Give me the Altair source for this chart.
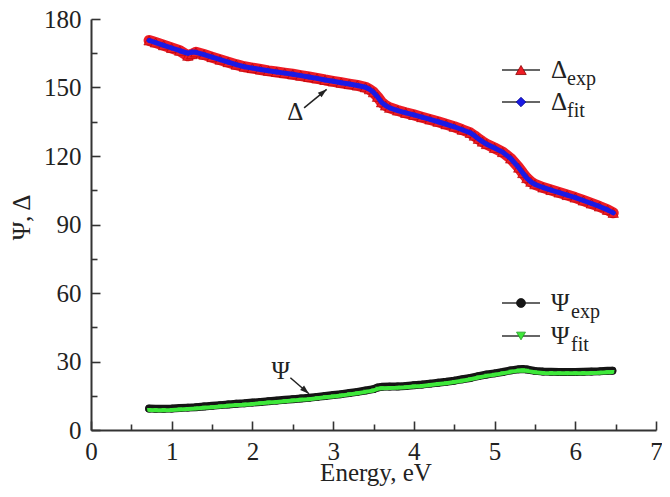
import math
import altair as alt
import pandas as pd

# ---------------- data ----------------
energy_delta = [0.72, 0.8, 0.9, 1.0, 1.1, 1.2, 1.25, 1.3, 1.4, 1.5, 1.6, 1.7, 1.8, 1.9,
                2.0, 2.1, 2.2, 2.3, 2.4, 2.5, 2.6, 2.7, 2.8, 2.9, 3.0, 3.1, 3.2, 3.3,
                3.4, 3.45, 3.5, 3.55, 3.6, 3.65, 3.7, 3.8, 3.9, 4.0, 4.1, 4.2, 4.3,
                4.4, 4.5, 4.6, 4.7, 4.75, 4.8, 4.85, 4.9, 5.0, 5.1, 5.2, 5.3, 5.35,
                5.4, 5.45, 5.5, 5.6, 5.7, 5.8, 5.9, 6.0, 6.1, 6.2, 6.3, 6.4, 6.47]
delta_exp = [170.6, 169.7, 168.5, 167.3, 166.1, 163.9, 164.6, 165.4, 164.4, 163.3, 162.2,
             161.1, 160.0, 159.1, 158.5, 157.9, 157.3, 156.8, 156.3, 155.8, 155.2, 154.6,
             154.0, 153.3, 152.7, 152.1, 151.5, 150.9, 150.1, 149.2, 147.9, 145.9, 143.5,
             142.1, 141.1, 139.9, 138.9, 138.0, 137.0, 136.0, 135.0, 133.9, 132.8, 131.5,
             130.1, 128.9, 127.5, 126.3, 125.2, 123.5, 121.7, 118.9, 114.9, 112.5, 110.3,
             108.7, 107.6, 106.2, 105.1, 104.0, 102.9, 101.8, 100.5, 99.2, 97.9, 96.4, 95.1]
delta_fit = [170.6, 169.7, 168.5, 167.3, 166.1, 165.0, 165.5, 165.4, 164.4, 163.3, 162.2,
             161.1, 160.0, 159.1, 158.5, 157.9, 157.3, 156.8, 156.3, 155.8, 155.2, 154.6,
             154.0, 153.3, 152.7, 152.1, 151.5, 150.9, 150.1, 149.2, 147.9, 145.9, 143.5,
             142.1, 141.1, 139.9, 138.9, 138.0, 137.0, 136.0, 135.0, 133.9, 132.8, 131.5,
             130.1, 128.9, 127.5, 126.3, 125.2, 123.5, 121.7, 118.9, 114.9, 112.5, 110.3,
             108.7, 107.6, 106.2, 105.1, 104.0, 102.9, 101.8, 100.5, 99.2, 97.9, 96.4, 95.1]

energy_psi = [0.72, 0.8, 0.9, 1.0, 1.1, 1.2, 1.3, 1.4, 1.5, 1.6, 1.7, 1.8, 1.9, 2.0,
              2.1, 2.2, 2.3, 2.4, 2.5, 2.6, 2.7, 2.8, 2.9, 3.0, 3.1, 3.2, 3.3, 3.4,
              3.5, 3.55, 3.6, 3.7, 3.8, 3.9, 4.0, 4.1, 4.2, 4.3, 4.4, 4.5, 4.6, 4.7,
              4.8, 4.9, 5.0, 5.1, 5.2, 5.3, 5.35, 5.4, 5.5, 5.6, 5.7, 5.8, 5.9, 6.0,
              6.1, 6.2, 6.3, 6.4, 6.46]
psi_exp = [9.4, 9.3, 9.3, 9.4, 9.6, 9.8, 10.0, 10.3, 10.6, 10.9, 11.2, 11.5, 11.7, 12.0,
           12.3, 12.6, 12.9, 13.2, 13.5, 13.8, 14.1, 14.5, 14.9, 15.3, 15.7, 16.2, 16.7,
           17.3, 17.9, 18.6, 18.9, 19.0, 19.1, 19.3, 19.6, 19.9, 20.3, 20.7, 21.1, 21.6,
           22.2, 22.8, 23.6, 24.3, 24.8, 25.4, 26.1, 26.6, 26.7, 26.5, 25.9, 25.6, 25.5,
           25.4, 25.4, 25.4, 25.5, 25.6, 25.7, 25.9, 26.0]
psi_fit = [8.8, 8.7, 8.7, 8.8, 9.0, 9.2, 9.4, 9.7, 10.0, 10.3, 10.6, 10.9, 11.1, 11.4,
           11.7, 12.0, 12.3, 12.6, 12.9, 13.2, 13.5, 13.9, 14.3, 14.7, 15.1, 15.6, 16.1,
           16.7, 17.3, 18.0, 18.3, 18.4, 18.5, 18.7, 19.0, 19.3, 19.7, 20.1, 20.5, 21.0,
           21.6, 22.2, 23.0, 23.7, 24.2, 24.8, 25.5, 26.0, 26.1, 25.9, 25.3, 25.0, 24.9,
           24.8, 24.8, 24.8, 24.9, 25.0, 25.1, 25.3, 25.4]

x_major = [0, 1, 2, 3, 4, 5, 6, 7]
x_minor = [0.5, 1.5, 2.5, 3.5, 4.5, 5.5, 6.5]
y_major = [0, 30, 60, 90, 120, 150, 180]
y_minor = [15, 45, 75, 105, 135, 165]

# annotation labels and arrows (data coordinates)
note_text = ["Δ", "Ψ"]
note_x = [2.53, 2.35]
note_y = [139.2, 25.8]
arrow_x = [2.64, 2.47]
arrow_y = [141.1, 22.9]
arrow_x2 = [2.92, 2.70]
arrow_y2 = [149.2, 15.9]

legend_main = ["Δ", "Δ", "Ψ", "Ψ"]
legend_sub = ["exp", "fit", "exp", "fit"]

# ---------------- layout / style ----------------
W, H = 565, 411
FONT = "Times New Roman, Liberation Serif, DejaVu Serif, serif"
AX = "#333333"
TXT = "#222222"
xs = alt.Scale(domain=[0, 7], nice=False, zero=False)
ys = alt.Scale(domain=[0, 180], nice=False, zero=False)

px_x = W / 7.0
px_y = H / 180.0

delta_df = pd.DataFrame({"E": energy_delta, "exp": delta_exp, "fit": delta_fit})
psi_df = pd.DataFrame({"E": energy_psi, "exp": psi_exp, "fit": psi_fit})

ang = []
for a, b, c, d in zip(arrow_x, arrow_y, arrow_x2, arrow_y2):
    t = math.degrees(math.atan2((c - a) * px_x, (d - b) * px_y)) % 360
    ang.append(t)
arrow_df = pd.DataFrame({"x": arrow_x, "y": arrow_y, "x2": arrow_x2, "y2": arrow_y2, "a": ang})
note_df = pd.DataFrame({"t": note_text, "x": note_x, "y": note_y})

# axes: one for labels+domain, one for major ticks, one for minor ticks (ticks inward)
x_main = alt.Axis(values=x_major, ticks=False, tickSize=0, domain=True, domainColor=AX,
                  domainWidth=2, labelFont=FONT, labelFontSize=25, labelColor=TXT,
                  labelPadding=9, labelFlush=False, labelOverlap=False, grid=False,
                  orient="bottom", format="d",
                  title="Energy, eV", titleFont=FONT, titleFontSize=25,
                  titleFontWeight="normal", titleColor=TXT, titleX=W / 2 + 2, titleY=50,
                  titleAlign="center", titleBaseline="alphabetic")
y_main = alt.Axis(values=y_major, ticks=False, tickSize=0, domain=True, domainColor=AX,
                  domainWidth=2, labelFont=FONT, labelFontSize=25, labelColor=TXT,
                  labelPadding=10, labelOverlap=False, grid=False, orient="left",
                  format="d",
                  title="Ψ, Δ", titleFont=FONT, titleFontSize=25, titleFontWeight="normal",
                  titleColor=TXT, titleX=-70, titleY=198, titleAngle=270,
                  titleAlign="center", titleBaseline="middle")
x_maj = alt.Axis(values=x_major, labels=False, domain=False, ticks=True, tickSize=9,
                 tickWidth=1.6, tickColor=AX, offset=-9, grid=False, orient="bottom",
                 title=None)
y_maj = alt.Axis(values=y_major, labels=False, domain=False, ticks=True, tickSize=9,
                 tickWidth=1.6, tickColor=AX, offset=-9, grid=False, orient="left",
                 title=None)
x_min = alt.Axis(values=x_minor, labels=False, domain=False, ticks=True, tickSize=6,
                 tickWidth=1.6, tickColor=AX, offset=-6, grid=False, orient="bottom",
                 title=None)
y_min = alt.Axis(values=y_minor, labels=False, domain=False, ticks=True, tickSize=6,
                 tickWidth=1.6, tickColor=AX, offset=-6, grid=False, orient="left",
                 title=None)


def enc(col, xaxis=None, yaxis=None):
    return dict(x=alt.X("E:Q", scale=xs, axis=xaxis), y=alt.Y(f"{col}:Q", scale=ys, axis=yaxis))


red = "#ee1c25"
blue = "#1a1ae6"
green = "#3ee83a"
black = "#151515"

d_exp_line = alt.Chart(delta_df).mark_line(color=red, strokeWidth=11, strokeCap="round",
                                           strokeJoin="round").encode(**enc("exp", x_main, y_main))
d_exp_pts = alt.Chart(delta_df).mark_point(shape="triangle-up", filled=True, size=110,
                                           color=red, stroke="#b00000", strokeWidth=0.6,
                                           opacity=1).encode(**enc("exp"))
d_fit_line = alt.Chart(delta_df).mark_line(color=blue, strokeWidth=5, strokeCap="round",
                                           strokeJoin="round").encode(**enc("fit", x_maj, y_maj))
d_fit_pts = alt.Chart(delta_df).mark_point(shape="diamond", filled=True, size=30,
                                           color=blue, opacity=1).encode(**enc("fit"))

p_exp_line = alt.Chart(psi_df).mark_line(color=black, strokeWidth=8, strokeCap="round",
                                         strokeJoin="round").encode(**enc("exp", x_min, y_min))
p_exp_pts = alt.Chart(psi_df).mark_point(shape="circle", filled=True, size=60,
                                         color=black, opacity=1).encode(**enc("exp"))
p_fit_line = alt.Chart(psi_df).mark_line(color=green, strokeWidth=4, strokeCap="round",
                                         strokeJoin="round").encode(**enc("fit"))
p_fit_pts = alt.Chart(psi_df).mark_point(shape="triangle-down", filled=True, size=22,
                                         color=green, opacity=1).encode(**enc("fit"))

notes = alt.Chart(note_df).mark_text(font=FONT, fontSize=25, color=TXT, align="center",
                                     baseline="middle").encode(
    x=alt.X("x:Q", scale=xs, axis=None), y=alt.Y("y:Q", scale=ys, axis=None), text="t:N")
arrows = alt.Chart(arrow_df).mark_rule(color=TXT, strokeWidth=1.5).encode(
    x=alt.X("x:Q", scale=xs, axis=None), y=alt.Y("y:Q", scale=ys, axis=None),
    x2="x2:Q", y2="y2:Q")
heads = alt.Chart(arrow_df).mark_point(shape="M0,0 L-0.6,1.8 L0.6,1.8 Z", filled=True,
                                       size=100, color=TXT, opacity=1).encode(
    x=alt.X("x2:Q", scale=xs, axis=None), y=alt.Y("y2:Q", scale=ys, axis=None),
    angle=alt.Angle("a:Q", scale=None))

# ---------------- legend (hand drawn) ----------------
one = pd.DataFrame({"k": [0]})
rows_y = [51, 83, 284, 317]
shapes = ["triangle-up", "diamond", "circle", "triangle-down"]
fills = [red, blue, black, green]
strokes = ["#8b0000", "#00008b", black, "#1f9a1f"]
sizes = [110, 90, 80, 80]
sub_x = [476, 476, 480, 480]
legend_layers = []
for i in range(4):
    ly = rows_y[i]
    legend_layers.append(alt.Chart(one).mark_rule(color="#333333", strokeWidth=1.5).encode(
        x=alt.value(411), x2=alt.value(449), y=alt.value(ly)))
    legend_layers.append(alt.Chart(one).mark_point(shape=shapes[i], filled=True, size=sizes[i],
                                                   color=fills[i], stroke=strokes[i],
                                                   strokeWidth=0.8, opacity=1).encode(
        x=alt.value(430), y=alt.value(ly)))
    legend_layers.append(alt.Chart(one).mark_text(text=legend_main[i], font=FONT, fontSize=25,
                                                  color=TXT, align="left",
                                                  baseline="middle").encode(
        x=alt.value(460), y=alt.value(ly)))
    legend_layers.append(alt.Chart(one).mark_text(text=legend_sub[i], font=FONT, fontSize=20,
                                                  color=TXT, align="left",
                                                  baseline="alphabetic").encode(
        x=alt.value(sub_x[i]), y=alt.value(ly + 15)))

chart = alt.layer(
    d_exp_line, d_exp_pts, d_fit_line, d_fit_pts,
    p_exp_line, p_exp_pts, p_fit_line, p_fit_pts,
    notes, arrows, heads, *legend_layers
).resolve_axis(x="independent", y="independent").properties(
    width=W, height=H,
    padding={"left": 83, "top": 11, "right": 6, "bottom": 56},
    autosize=alt.AutoSizeParams(type="none"),
    background="white",
).configure_view(stroke=None)

chart.save("out.html", embed_options={"renderer": "svg", "actions": False})
